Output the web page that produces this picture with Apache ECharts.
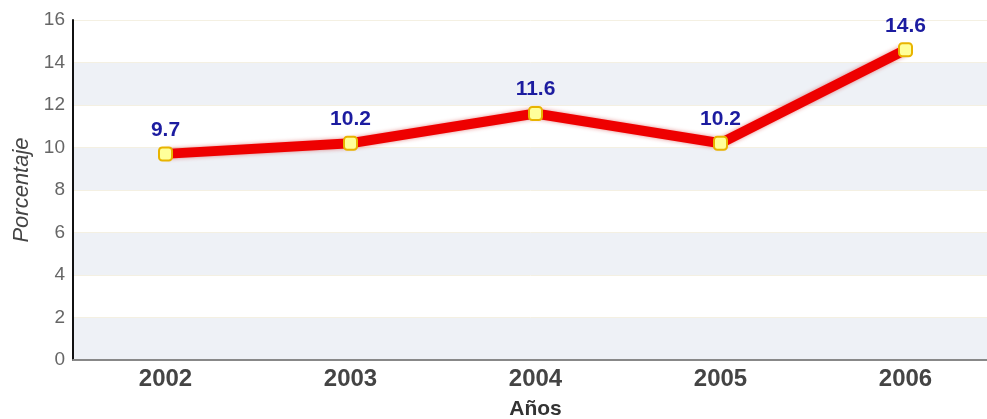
<!DOCTYPE html>
<html><head><meta charset="utf-8">
<script src="https://cdn.jsdelivr.net/npm/echarts@6/dist/echarts.min.js"></script>
<style>html,body{margin:0;padding:0;background:#fff}#c{width:987px;height:419px}</style>
</head><body><div id="c"></div>
<script>
const categories = ['2002','2003','2004','2005','2006'];
const values = [9.7, 10.2, 11.6, 10.2, 14.6];
const yTicks = [0,2,4,6,8,10,12,14,16];
const chart = echarts.init(document.getElementById('c'));
chart.setOption({
  animation:false,
  grid:{left:73, right:-11, top:20, bottom:59, outerBoundsMode:'none', containLabel:false},
  xAxis:{type:'category', data:categories, boundaryGap:true,
    name:'Años', nameLocation:'middle', nameGap:39,
    nameTextStyle:{fontFamily:'Liberation Sans', fontWeight:'bold', fontSize:21, color:'#333'},
    axisLine:{lineStyle:{color:'#888', width:2}},
    axisTick:{show:false},
    axisLabel:{fontFamily:'Liberation Sans', fontWeight:'bold', fontSize:24, color:'#444', margin:7}},
  yAxis:{type:'value', min:yTicks[0], max:yTicks[yTicks.length-1], interval:2,
    name:'Porcentaje', nameLocation:'middle', nameGap:38,
    nameTextStyle:{fontFamily:'Liberation Sans', fontStyle:'italic', fontSize:22, color:'#444'},
    axisLine:{show:true, lineStyle:{color:'#111', width:2}},
    axisTick:{show:false},
    axisLabel:{fontFamily:'Liberation Sans', fontSize:19, color:'#666', margin:8},
    splitLine:{show:true, lineStyle:{color:'#f4f0e2', width:1}},
    splitArea:{show:true, areaStyle:{color:['#eef1f6','#ffffff']}}},
  series:[{type:'line', data:values,
    lineStyle:{color:'#ee0000', width:10, shadowColor:'rgba(200,0,0,0.45)', shadowBlur:4},
    symbol:'roundRect', symbolSize:13,
    itemStyle:{color:'#ffff9a', borderColor:'#e8b400', borderWidth:2},
    label:{show:true, position:'top', distance:6, fontFamily:'Liberation Sans', fontWeight:'bold', fontSize:21, color:'#1c1ca0'}}]
});
</script></body></html>
